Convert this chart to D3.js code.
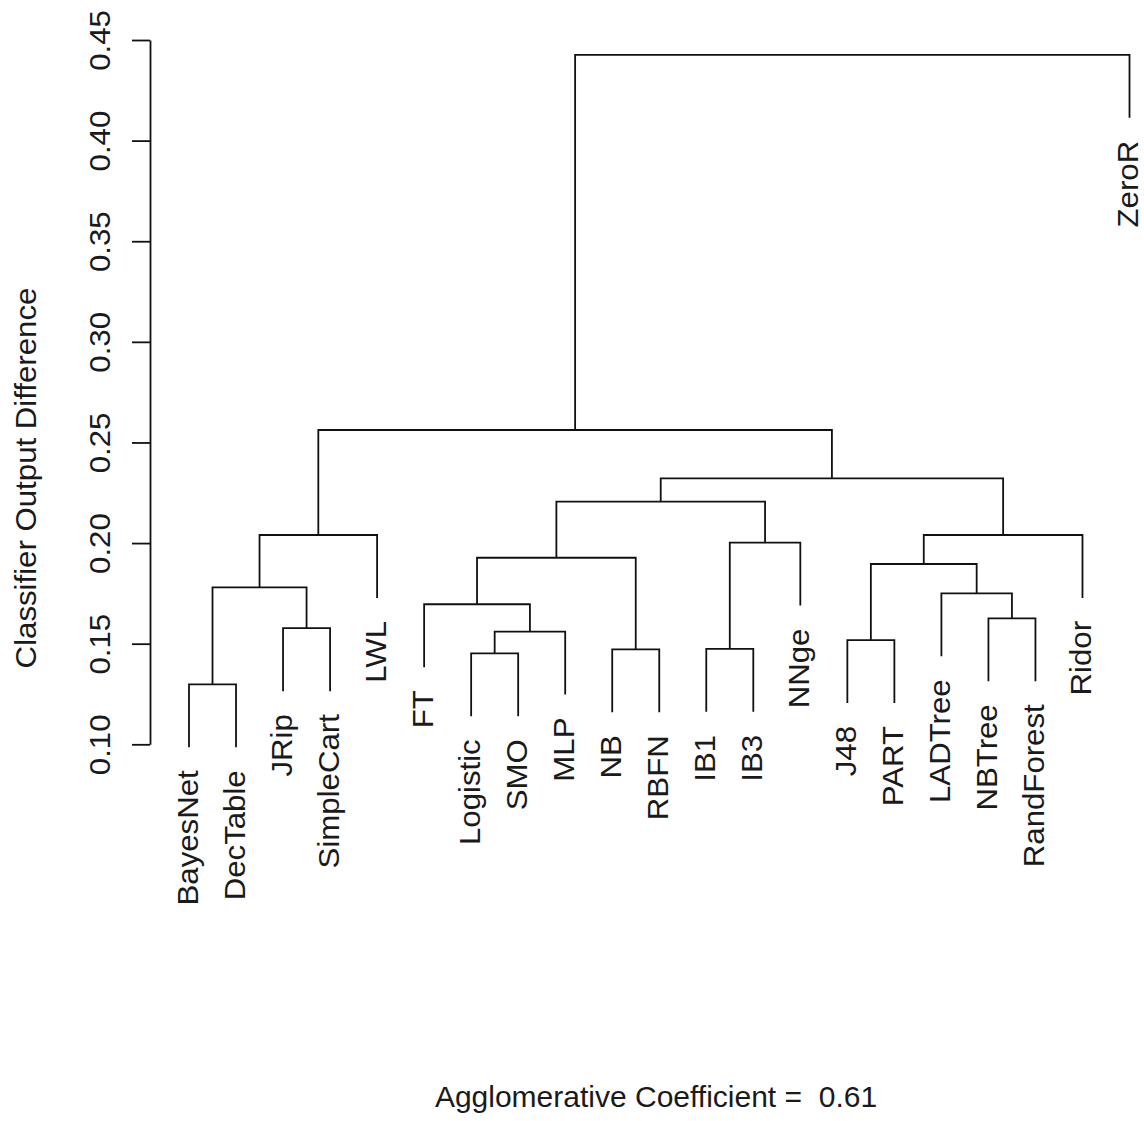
<!DOCTYPE html>
<html><head><meta charset="utf-8">
<script src="https://cdn.jsdelivr.net/npm/d3@7"></script>
<style>
body{margin:0;background:#fff}
svg{display:block}
text{font-family:"Liberation Sans",Arial,sans-serif;font-size:30px;fill:#1a1a1a}
</style>
</head><body>
<svg id="c" width="1144" height="1121"></svg>
<script>
// Leaf order as drawn (left to right)
const labels = ["BayesNet","DecTable","JRip","SimpleCart","LWL","FT","Logistic","SMO","MLP","NB","RBFN",
  "IB1","IB3","NNge","J48","PART","LADTree","NBTree","RandForest","Ridor","ZeroR"];
// R-style merge matrix: negative = leaf (1-based index in labels), positive = earlier merge step
const merges = [
  [-1,-2],[-7,-8],[-10,-11],[-12,-13],[-15,-16],[2,-9],[-3,-4],[-18,-19],[-6,6],[-17,8],
  [1,7],[5,10],[9,3],[4,-14],[11,-5],[12,-20],[13,14],[17,16],[15,18],[19,-21]
];
const heights = [0.1298,0.1452,0.1472,0.1474,0.1518,0.1560,0.1577,0.1626,0.1696,0.1750,
  0.1780,0.1896,0.1927,0.2002,0.2040,0.2040,0.2206,0.2322,0.2562,0.4426];
const yTicks = [0.10,0.15,0.20,0.25,0.30,0.35,0.40,0.45];
const yTitle = "Classifier Output Difference";
const subTitle = "Agglomerative Coefficient =  0.61";
const hangFrac = 0.1;

const svg = d3.select("#c");
const y = d3.scaleLinear().domain([0.10, 0.45]).range([744.3, 40]);
const x = d3.scaleLinear().domain([0, labels.length - 1]).range([189, 1129.5]);
const hang = hangFrac * (d3.max(heights) - d3.min(heights));
const stretch = 1.04;

// axis
const axis = d3.axisLeft(y).tickValues(yTicks).tickSize(18).tickSizeOuter(0).tickFormat(d3.format(".2f"));
const ag = svg.append("g").attr("transform", "translate(150,0)").call(axis);
ag.selectAll("path,line").attr("stroke", "#111").attr("stroke-width", 1.8);
ag.selectAll("text")
  .attr("x", null).attr("dy", null).attr("y", 0)
  .attr("text-anchor", "middle")
  .attr("transform", `translate(-40,0) rotate(-90) scale(${stretch},1)`)
  .style("font-size", "30px").style("font-family", "'Liberation Sans',Arial,sans-serif").attr("fill", "#1a1a1a");

// dendrogram geometry
const nodeX = [], nodeY = [];
function childPos(c, parentH) {
  if (c < 0) {
    const i = -c - 1;
    return { x: x(i), top: y(parentH - hang), leaf: i };
  }
  return { x: nodeX[c - 1], top: nodeY[c - 1], leaf: null };
}
const g = svg.append("g").attr("fill", "none").attr("stroke", "#111").attr("stroke-width", 1.8);
const leafEnds = [];
merges.forEach((m, k) => {
  const h = heights[k];
  const a = childPos(m[0], h), b = childPos(m[1], h);
  const yh = y(h);
  nodeX[k] = (a.x + b.x) / 2;
  nodeY[k] = yh;
  g.append("path").attr("d", `M${a.x},${a.top}V${yh}H${b.x}V${b.top}`);
  [a, b].forEach(c => { if (c.leaf !== null) leafEnds.push({ i: c.leaf, x: c.x, y: c.top }); });
});

// leaf labels
svg.append("g").selectAll("text").data(leafEnds).join("text")
  .attr("text-anchor", "end")
  .attr("transform", d => `translate(${d.x + 8.5},${d.y + 23}) rotate(-90) scale(${stretch},1)`)
  .text(d => labels[d.i]);

// y title
svg.append("text").attr("text-anchor", "middle")
  .attr("transform", `translate(36,478) rotate(-90) scale(${stretch},1)`).text(yTitle);

// subtitle
svg.append("text").attr("text-anchor", "middle").style("white-space", "pre")
  .attr("x", 656).attr("y", 1107).text(subTitle);
</script>
</body></html>
